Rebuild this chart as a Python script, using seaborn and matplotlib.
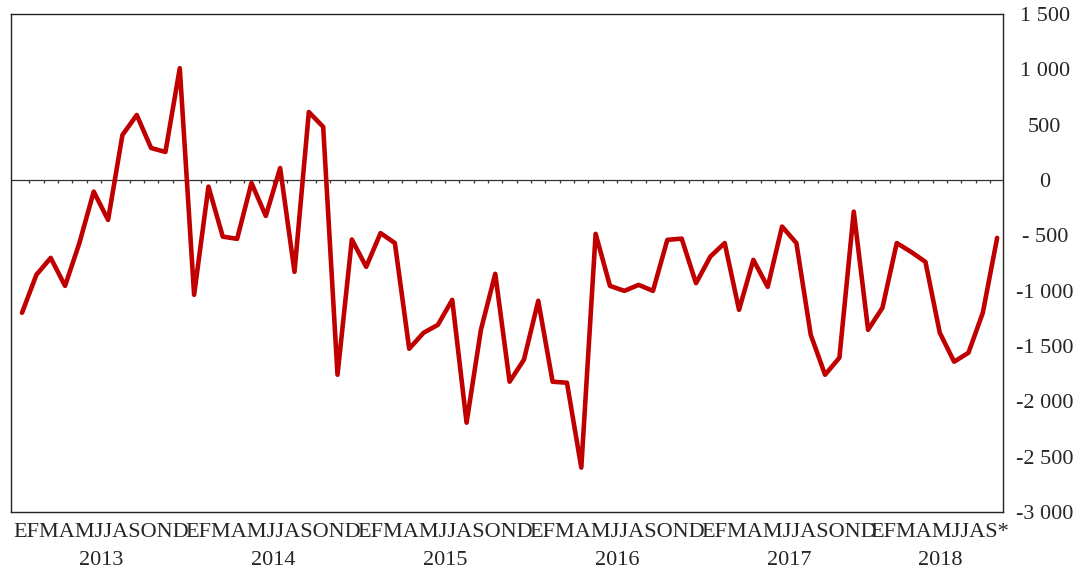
import pandas as pd
import numpy as np
import seaborn as sns
import matplotlib.pyplot as plt

# monthly values, Jan 2013 .. Sep 2018
values = [-1200, -857, -704, -957, -570, -105, -361, 406, 587, 289, 253, 1010,
          -1038, -60, -512, -532, -27, -325, 108, -830, 614, 480, -1760, -538,
          -785, -480, -570, -1525, -1381, -1309, -1083, -2193, -1354, -848, -1823, -1624,
          -1092, -1823, -1832, -2599, -487, -957, -1002, -948, -1002, -541, -530, -933,
          -692, -570, -1173, -722, -966, -421, -570, -1399, -1760, -1606, -286, -1354,
          -1155, -570, -650, -740, -1381, -1642, -1561, -1200, -523]
years = [2013, 2014, 2015, 2016, 2017, 2018]
month_letters = ["E", "F", "M", "A", "M", "J", "J", "A", "S", "O", "N", "D"]
y_ticks = [1500, 1000, 500, 0, -500, -1000, -1500, -2000, -2500, -3000]
y_labels = ["1 500", "1 000", "500", "0", "- 500", "-1 000", "-1 500", "-2 000", "-2 500", "-3 000"]

df = pd.DataFrame({"idx": np.arange(len(values)), "valor": values})
df["year"] = years[0] + df["idx"] // 12

sns.set_style("white")
plt.rcParams["font.family"] = ["Liberation Serif", "DejaVu Serif"]

fig = plt.figure(figsize=(10.88, 5.75), dpi=100)
ax = fig.add_axes([0.0101, 0.1096, 0.9118, 0.8661])

# zero line with small month ticks
ax.axhline(0, color="#333333", lw=0.9, zorder=1)
ax.vlines(df["idx"][:-1] + 0.5, -30, 0, color="#333333", lw=0.9, zorder=1)

sns.lineplot(data=df, x="idx", y="valor", color="#C00000", lw=3.3, ax=ax, zorder=3)

ax.set_xlim(-0.77, 68.41)
ax.set_ylim(-3000, 1500)

# y axis on the right, centred labels
ax.yaxis.tick_right()
ax.set_yticks(y_ticks)
ax.set_yticklabels(y_labels, fontsize=16, ha="center")
ax.tick_params(axis="y", length=0, pad=30)

# month strings + year under them
centers, labels = [], []
for y, grp in df.groupby("year"):
    n = len(grp)
    s = "".join(month_letters[:n])
    if n < 12:
        s += "*"
    centers.append(grp["idx"].mean())
    labels.append(s + "\n" + str(y))
ax.set_xticks(centers)
ax.set_xticklabels(labels, fontsize=16, linespacing=1.65)
ax.tick_params(axis="x", length=0, pad=8)
ax.set_xlabel("")
ax.set_ylabel("")

for sp in ax.spines.values():
    sp.set_color("#222222")
    sp.set_linewidth(1.0)

fig.savefig("out.png", dpi=100)
